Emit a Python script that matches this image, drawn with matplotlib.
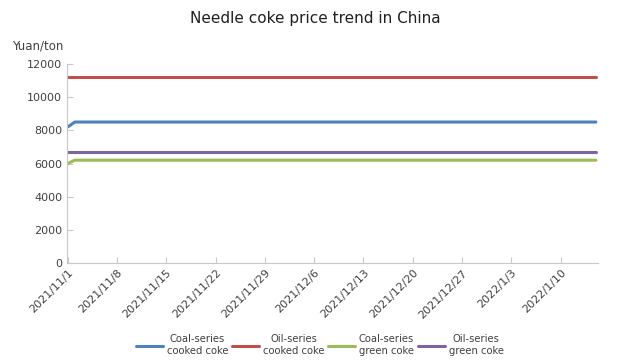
import datetime as dt
import numpy as np
import matplotlib
matplotlib.use("Agg")
from matplotlib import pyplot as plt
import matplotlib.dates as mdates

# daily prices, 2021/11/1 .. 2022/1/15
start = dt.date(2021, 11, 1)
n_days = 76
dates = [start + dt.timedelta(days=i) for i in range(n_days)]

coal_cooked = [8200] + [8500] * (n_days - 1)
oil_cooked = [11200] * n_days
coal_green = [6000] + [6200] * (n_days - 1)
oil_green = [6700] * n_days

series_names = ["Coal-series\ncooked coke", "Oil-series\ncooked coke",
                "Coal-series\ngreen coke", "Oil-series\ngreen coke"]
series_values = [coal_cooked, oil_cooked, coal_green, oil_green]
colors = ["#4F81BD", "#C0504D", "#9BBB59", "#8064A2"]

y_ticks = [0, 2000, 4000, 6000, 8000, 10000, 12000]
tick_dates = [start + dt.timedelta(days=7 * i) for i in range(11)]

fig = plt.figure(figsize=(6.31, 3.63), dpi=100)
ax = fig.add_axes([67 / 631, 1 - 263 / 363, (598 - 67) / 631, (263 - 64) / 363])

for name, vals, c in zip(series_names, series_values, colors):
    ax.plot(dates, vals, color=c, lw=2.2, label=name, solid_capstyle="round")

ax.set_ylim(0, 12000)
ax.set_yticks(y_ticks)
ax.set_xlim(mdates.date2num(dates[0]) - 0.1, mdates.date2num(dates[-1]) + 0.3)
ax.set_xticks(tick_dates)
ax.xaxis.set_major_formatter(
    matplotlib.ticker.FuncFormatter(
        lambda v, p: (lambda d: f"{d.year}/{d.month}/{d.day}")(mdates.num2date(v))))

grey = "#C8C8C8"
for side in ["top", "right"]:
    ax.spines[side].set_visible(False)
for side in ["left", "bottom"]:
    ax.spines[side].set_color(grey)
ax.tick_params(colors=grey, labelcolor="#404040", labelsize=8, length=4, width=0.8,
               direction="in")
plt.setp(ax.get_xticklabels(), rotation=45, ha="right", rotation_mode="anchor")

fig.text(0.5, 1 - 18 / 363, "Needle coke price trend in China", ha="center", va="center",
         fontsize=11, color="#202020")
fig.text(12 / 631, 1 - 46 / 363, "Yuan/ton", ha="left", va="center", fontsize=8.5,
         color="#404040")

leg = fig.legend(loc="center", bbox_to_anchor=(320 / 631, 1 - 345 / 363), ncol=4,
                 frameon=False, fontsize=7.2, handlelength=2.7, handletextpad=0.35,
                 columnspacing=0.4, labelcolor="#404040")
for t in leg.get_texts():
    t.set_multialignment("center")

fig.savefig("out.png", dpi=100)
plt.close(fig)
